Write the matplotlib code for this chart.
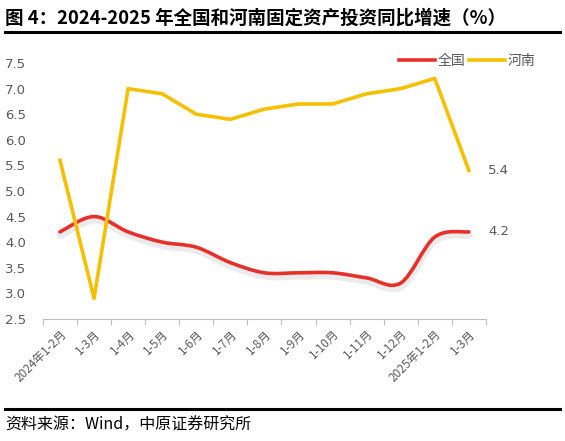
import numpy as np
import matplotlib
matplotlib.use("Agg")
import matplotlib.pyplot as plt
from matplotlib.path import Path
from matplotlib.patches import PathPatch
from matplotlib.lines import Line2D
import matplotlib.patheffects as pe

plt.rcParams['font.family'] = ['Noto Sans CJK SC', 'DejaVu Sans']

categories = ["2024年1-2月", "1-3月", "1-4月", "1-5月", "1-6月", "1-7月", "1-8月",
              "1-9月", "1-10月", "1-11月", "1-12月", "2025年1-2月", "1-3月"]
national = [4.2, 4.5, 4.2, 4.0, 3.9, 3.6, 3.4, 3.4, 3.4, 3.3, 3.2, 4.1, 4.2]
henan = [5.6, 2.9, 7.0, 6.9, 6.5, 6.4, 6.6, 6.7, 6.7, 6.9, 7.0, 7.2, 5.4]
yticks = [2.5, 3.0, 3.5, 4.0, 4.5, 5.0, 5.5, 6.0, 6.5, 7.0, 7.5]

RED = "#e8302a"
YEL = "#f6c000"
GRAY = "#595959"

fig = plt.figure(figsize=(5.65, 4.41), dpi=100)
ax = fig.add_axes([0.076, 0.277, 0.784, 0.58])

x = np.arange(len(categories))

# smooth red line via Catmull-Rom -> cubic Bezier path
def smooth_path(xs, ys, t=1/6):
    pts = np.column_stack([xs, ys]).astype(float)
    verts = [pts[0]]
    codes = [Path.MOVETO]
    n = len(pts)
    for i in range(n - 1):
        p0 = pts[i - 1] if i > 0 else pts[i]
        p1 = pts[i]
        p2 = pts[i + 1]
        p3 = pts[i + 2] if i + 2 < n else pts[i + 1]
        c1 = p1 + (p2 - p0) * t
        c2 = p2 - (p3 - p1) * t
        verts += [c1, c2, p2]
        codes += [Path.CURVE4] * 3
    return Path(verts, codes)

patch = PathPatch(smooth_path(x, national), facecolor='none', edgecolor=RED, lw=2.6,
                  capstyle='round', zorder=3,
                  path_effects=[pe.SimpleLineShadow(offset=(0.5, -2.5), shadow_color='#000000', alpha=0.08, linewidth=5), pe.Normal()])
ax.add_patch(patch)
ax.plot(x, henan, color=YEL, lw=2.6, zorder=3, solid_joinstyle='round')

ax.set_xlim(-0.5, len(categories) - 0.5)
ax.set_ylim(2.5, 7.5)
ax.set_yticks(yticks)
ax.set_yticklabels([f"{v:.1f}" for v in yticks], color=GRAY, fontsize=9.5, family=['DejaVu Sans'])
ax.tick_params(axis='y', length=0, pad=12)

ax.set_xticks(x)
ax.set_xticklabels(categories, rotation=45, ha='right', rotation_mode='anchor', color=GRAY, fontsize=8.5)
ax.tick_params(axis='x', which='major', length=0, pad=6)
ax.set_xticks(np.arange(-0.5, len(categories), 1.0), minor=True)
ax.tick_params(axis='x', which='minor', length=4, color='#bfbfbf', width=0.8)

for s in ['top', 'right', 'left']:
    ax.spines[s].set_visible(False)
ax.spines['bottom'].set_color('#bfbfbf')
ax.spines['bottom'].set_linewidth(0.8)

# end labels
ax.annotate(f"{henan[-1]:.1f}", (x[-1], henan[-1]), xytext=(14, 0), textcoords='offset points',
            va='center', ha='left', color=GRAY, fontsize=9.5, family=['DejaVu Sans'])
ax.annotate(f"{national[-1]:.1f}", (x[-1], national[-1]), xytext=(14, 0), textcoords='offset points',
            va='center', ha='left', color=GRAY, fontsize=9.5, family=['DejaVu Sans'])

handles = [Line2D([0], [0], color=RED, lw=2.6), Line2D([0], [0], color=YEL, lw=2.6)]
leg = fig.legend(handles, ["全国", "河南"], loc='center', bbox_to_anchor=(0.827, 0.862), ncol=2,
                 frameon=False, fontsize=10, handlelength=2.6, handletextpad=0.2, columnspacing=0.2,
                 labelcolor=GRAY)

# title and footer
fig.text(0.009, 0.958, "图 4：2024-2025 年全国和河南固定资产投资同比增速（%）", fontsize=13.3,
         fontweight='bold', ha='left', va='center', color='black')
fig.add_artist(Line2D([0.009, 0.991], [0.927, 0.927], color='black', lw=2.2, transform=fig.transFigure))
fig.add_artist(Line2D([0.009, 0.991], [0.073, 0.073], color='black', lw=2.2, transform=fig.transFigure))
fig.text(0.009, 0.036, "资料来源：Wind，中原证券研究所", fontsize=11.5, ha='left', va='center', color='black')

fig.savefig("out.png", dpi=100)
